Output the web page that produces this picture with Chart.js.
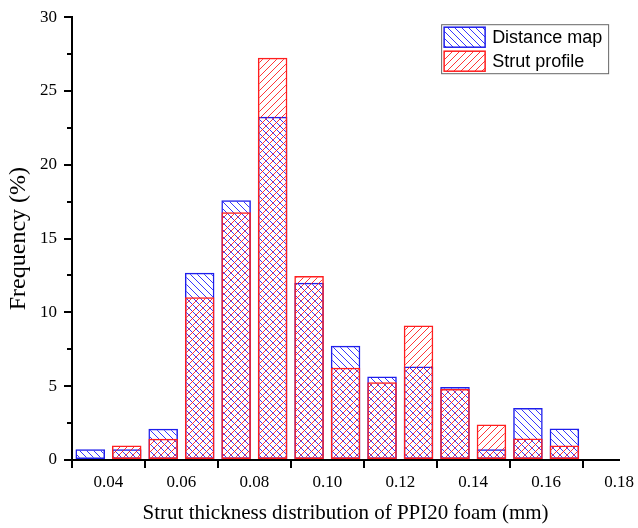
<!DOCTYPE html>
<html>
<head>
<meta charset="utf-8">
<script src="https://cdn.jsdelivr.net/npm/chart.js@4.4.1/dist/chart.umd.min.js"></script>
<style>
  html, body { margin: 0; padding: 0; background: #fff; }
</style>
</head>
<body>
<canvas id="chart" width="638" height="528"></canvas>
<script>
// bin centres (mm) and frequencies (%)
var binCenters = [0.035, 0.045, 0.055, 0.065, 0.075, 0.085, 0.095, 0.105, 0.115, 0.125, 0.135, 0.145, 0.155, 0.165];
var distanceMap = [0.72, 0.72, 2.11, 12.69, 17.59, 23.26, 12.01, 7.74, 5.65, 6.34, 4.95, 0.72, 3.53, 2.14];
var strutProfile = [0, 0.99, 1.44, 11.02, 16.78, 27.26, 12.46, 6.25, 5.26, 9.11, 4.81, 2.41, 1.46, 0.99];
var seriesNames = ['Distance map', 'Strut profile'];
var xMinorTicks = [0.03, 0.05, 0.07, 0.09, 0.11, 0.13, 0.15, 0.17];
var yMinorTicks = [2.5, 7.5, 12.5, 17.5, 22.5, 27.5];

var SERIF = '"Liberation Serif", "Times New Roman", serif';
var SANS = '"Liberation Sans", Arial, sans-serif';

/**
 * Build a hatch pattern.
 * @param {string} color - line colour.
 * @param {bool} back - true for '\\' lines, false for '//'.
 */
function hatch(color, back) {
    var s = 7;
    var c = document.createElement('canvas');
    c.width = s;
    c.height = s;
    var g = c.getContext('2d');
    g.strokeStyle = color;
    g.lineWidth = 1;
    g.beginPath();
    [-s, 0, s].forEach(function(k) {
        if (back) {
            g.moveTo(k, 0);
            g.lineTo(k + s, s);
        } else {
            g.moveTo(k + s, 0);
            g.lineTo(k, s);
        }
    });
    g.stroke();
    return g.createPattern(c, 'repeat');
}

var blueFill = hatch('rgba(20,20,255,0.85)', true);
var redFill = hatch('rgba(255,20,20,0.85)', false);
var blueLine = 'rgb(30,30,235)';
var redLine = 'rgb(255,30,30)';

function points(values) {
    return binCenters.map(function(x, i) {
        return { x: x, y: values[i] };
    });
}

var minorTicks = {
    id: 'minorTicks',
    afterDraw: function(chart) {
        var ctx = chart.ctx;
        var xs = chart.scales.x;
        var ys = chart.scales.y;
        var a = chart.chartArea;
        ctx.save();
        ctx.strokeStyle = '#000';
        ctx.lineWidth = 2;
        ctx.beginPath();
        xMinorTicks.forEach(function(v) {
            var px = Math.round(xs.getPixelForValue(v));
            ctx.moveTo(px, a.bottom);
            ctx.lineTo(px, a.bottom + 5);
        });
        yMinorTicks.forEach(function(v) {
            var py = Math.round(ys.getPixelForValue(v));
            ctx.moveTo(a.left, py);
            ctx.lineTo(a.left - 5, py);
        });
        ctx.stroke();
        ctx.restore();
    }
};

var boxLegend = {
    id: 'boxLegend',
    afterDraw: function(chart) {
        var ctx = chart.ctx;
        var a = chart.chartArea;
        var x0 = a.right - 178;
        var y0 = a.top + 7;
        ctx.save();
        ctx.fillStyle = '#fff';
        ctx.fillRect(x0, y0, 167, 49);
        ctx.strokeStyle = '#666';
        ctx.lineWidth = 1;
        ctx.strokeRect(x0 + 0.5, y0 + 0.5, 167, 49);
        var fills = [blueFill, redFill];
        var lines = [blueLine, redLine];
        ctx.font = '18px ' + SANS;
        ctx.textBaseline = 'middle';
        seriesNames.forEach(function(name, i) {
            var sy = y0 + 3 + i * 24;
            ctx.fillStyle = fills[i];
            ctx.fillRect(x0 + 3, sy, 41, 20);
            ctx.strokeStyle = lines[i];
            ctx.lineWidth = 1.5;
            ctx.strokeRect(x0 + 3, sy, 41, 20);
            ctx.fillStyle = '#000';
            ctx.fillText(name, x0 + 51, sy + 11);
        });
        ctx.restore();
    }
};

new Chart(document.getElementById('chart').getContext('2d'), {
    type: 'bar',
    data: {
        datasets: [{
            label: seriesNames[0],
            data: points(distanceMap),
            backgroundColor: blueFill,
            borderColor: blueLine,
            borderWidth: 1.5,
            borderSkipped: false,
            order: 1
        }, {
            label: seriesNames[1],
            data: points(strutProfile),
            backgroundColor: redFill,
            borderColor: redLine,
            borderWidth: 1.5,
            borderSkipped: false,
            order: 0
        }]
    },
    options: {
        responsive: false,
        animation: false,
        grouped: false,
        categoryPercentage: 1,
        barPercentage: 0.81,
        layout: { padding: { top: 15, right: 16, left: 0, bottom: 0 } },
        plugins: {
            legend: { display: false },
            tooltip: { enabled: false }
        },
        scales: {
            x: {
                type: 'linear',
                min: 0.03,
                max: 0.18,
                offset: false,
                z: 1,
                afterFit: function(s) { s.height = 68; },
                border: { display: true, color: '#000', width: 2 },
                grid: { display: true, drawOnChartArea: false, drawTicks: true, tickLength: 8, color: '#000', lineWidth: 2 },
                ticks: {
                    stepSize: 0.02,
                    includeBounds: false,
                    padding: 4,
                    color: '#000',
                    maxRotation: 0,
                    font: { family: SERIF, size: 17 },
                    callback: function(v) { return Number(v).toFixed(2); }
                },
                title: {
                    display: true,
                    text: 'Strut thickness distribution of PPI20 foam (mm)',
                    color: '#000',
                    font: { family: SERIF, size: 21 },
                    padding: { top: 0, bottom: 2 }
                }
            },
            y: {
                min: 0,
                max: 30,
                z: 1,
                afterFit: function(s) { s.width = 72; },
                border: { display: true, color: '#000', width: 2 },
                grid: { display: true, drawOnChartArea: false, drawTicks: true, tickLength: 8, color: '#000', lineWidth: 2 },
                ticks: {
                    stepSize: 5,
                    padding: 7,
                    color: '#000',
                    font: { family: SERIF, size: 17 }
                },
                title: {
                    display: true,
                    text: 'Frequency (%)',
                    color: '#000',
                    font: { family: SERIF, size: 24 },
                    padding: { top: 4, bottom: 0 }
                }
            }
        }
    },
    plugins: [minorTicks, boxLegend]
});
</script>
</body>
</html>
